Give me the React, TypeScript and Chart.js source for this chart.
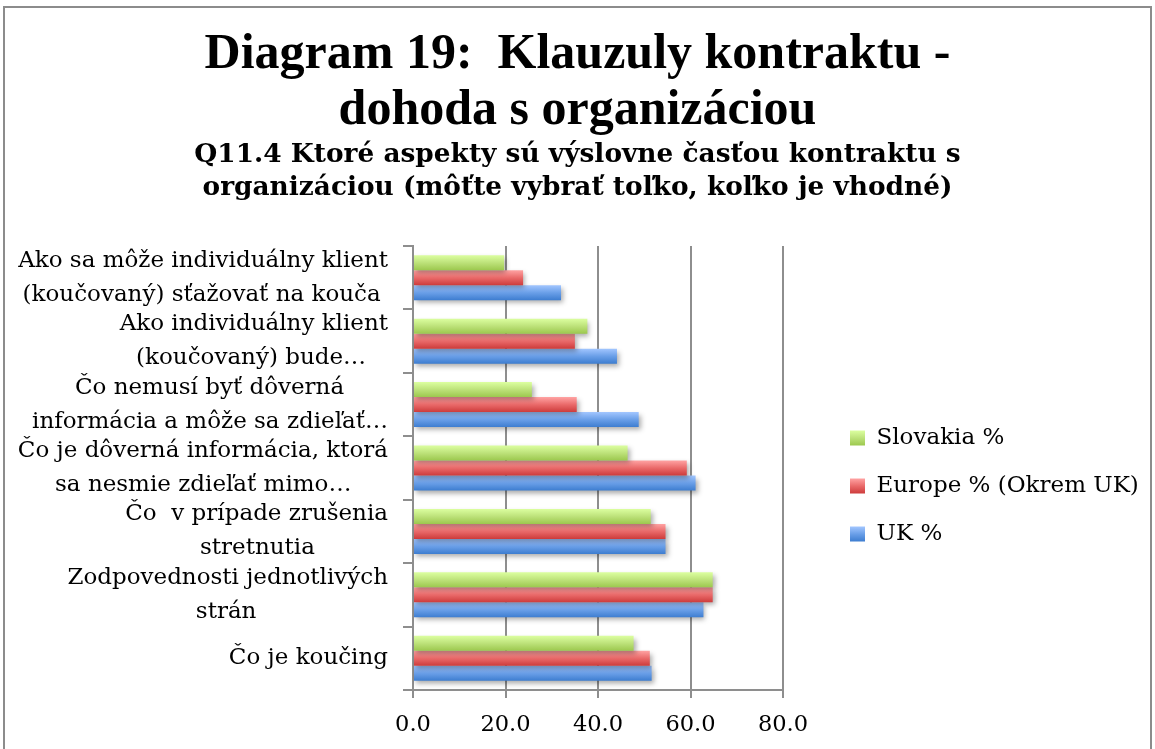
import React, { useEffect, useRef } from "react";
import { Chart, registerables } from "chart.js";

Chart.register(...registerables);

// ---------- data ----------
const categories: string[][] = [
  ["Ako sa môže individuálny klient", "(koučovaný) sťažovať na kouča"],
  ["Ako individuálny klient", "(koučovaný) bude…"],
  ["Čo nemusí byť dôverná", "informácia a môže sa zdieľať…"],
  ["Čo je dôverná informácia, ktorá", "sa nesmie zdieľať mimo…"],
  ["Čo  v prípade zrušenia", "stretnutia"],
  ["Zodpovednosti jednotlivých", "strán"],
  ["Čo je koučing"],
];
const slovakia = [19.7, 37.7, 25.7, 46.4, 51.4, 64.8, 47.7];
const europe = [23.8, 35.0, 35.4, 59.2, 54.6, 64.8, 51.2];
const uk = [32.0, 44.1, 48.8, 61.1, 54.6, 62.8, 51.6];
const seriesNames = ["Slovakia %", "Europe % (Okrem UK)", "UK %"];
const titleLines = ["Diagram 19:  Klauzuly kontraktu -", "dohoda s organizáciou"];
const subtitleLines = [
  "Q11.4 Ktoré aspekty sú výslovne časťou kontraktu s",
  "organizáciou (môťte vybrať toľko, koľko je vhodné)",
];
const xMin = 0;
const xMax = 80;
const xStep = 20;

// ---------- styles ----------
const seriesMid = ["#bde27a", "#ea6a6a", "#6a9fe8"];
const seriesStops = [
  ["#dcffa0", "#bde27a", "#9cc84e"],
  ["#ffa3a3", "#ea6a6a", "#cd3b3b"],
  ["#a2c6ff", "#6a9fe8", "#3d7dd0"],
];
const gridColor = "#8e8e8e";
const labelFont = "DejaVu Serif";
const W = 1155;
const H = 749;

function padLabels(cats: string[][], size: number): string[][] {
  const c = document.createElement("canvas").getContext("2d")!;
  c.font = `${size}px "${labelFont}"`;
  const sp = c.measureText("\u00A0").width || size * 0.3;
  return cats.map((lines) => {
    const widths = lines.map((l) => c.measureText(l).width);
    const maxW = Math.max(...widths);
    return lines.map((l, i) => l + "\u00A0".repeat(Math.max(0, Math.round((maxW - widths[i]) / 2 / sp))));
  });
}

function makeGrad(ctx: CanvasRenderingContext2D, top: number, bottom: number, stops: string[]) {
  const g = ctx.createLinearGradient(0, top, 0, bottom);
  g.addColorStop(0, stops[0]);
  g.addColorStop(0.5, stops[1]);
  g.addColorStop(1, stops[2]);
  return g;
}

const barStyle = {
  id: "barStyle",
  afterLayout(chart: any) {
    // let the legend use the whole right margin (avoid clipping long labels)
    const lg = chart.legend;
    if (lg) {
      lg.right = W;
      lg.width = W - lg.left;
    }
  },
  beforeDraw(chart: any) {
    const lg = chart.legend;
    if (!lg || !lg.legendItems || !lg.legendHitBoxes) return;
    const ctx = chart.ctx as CanvasRenderingContext2D;
    lg.legendItems.forEach((item: any, i: number) => {
      const hb = lg.legendHitBoxes[i];
      if (!hb) return;
      const top = hb.top + (hb.height - 15) / 2;
      item.fillStyle = makeGrad(ctx, top, top + 15, seriesStops[item.datasetIndex]);
    });
  },
  beforeDatasetsDraw(chart: any) {
    const ctx = chart.ctx as CanvasRenderingContext2D;
    chart.data.datasets.forEach((_ds: any, i: number) => {
      const meta = chart.getDatasetMeta(i);
      const stops = seriesStops[i];
      meta.data.forEach((el: any) => {
        const y = el.y;
        const h = el.height;
        el.options = { ...el.options, backgroundColor: makeGrad(ctx, y - h / 2, y + h / 2, stops) };
      });
    });
    ctx.save();
    ctx.shadowColor = "rgba(0,0,0,0.33)";
    ctx.shadowBlur = 5;
    ctx.shadowOffsetX = 2;
    ctx.shadowOffsetY = 3;
  },
  afterDatasetsDraw(chart: any) {
    chart.ctx.restore();
  },
};

export default function App() {
  const ref = useRef<HTMLCanvasElement>(null);

  useEffect(() => {
    const tickSize = 23;
    const padded = padLabels(categories, tickSize);
    const chart = new Chart(ref.current!, {
      type: "bar",
      data: {
        labels: categories as any,
        datasets: [
          { label: seriesNames[0], data: slovakia, backgroundColor: seriesMid[0], borderWidth: 0 },
          { label: seriesNames[1], data: europe, backgroundColor: seriesMid[1], borderWidth: 0 },
          { label: seriesNames[2], data: uk, backgroundColor: seriesMid[2], borderWidth: 0 },
        ],
      },
      options: {
        indexAxis: "y",
        responsive: false,
        animation: false,
        devicePixelRatio: 1,
        layout: { padding: { left: 0, right: 0, top: 0, bottom: 0 } },
        datasets: { bar: { categoryPercentage: 0.71, barPercentage: 1 } },
        plugins: {
          title: {
            display: true,
            text: titleLines,
            color: "#000",
            font: { family: "Liberation Serif", size: 50, weight: "bold", lineHeight: 1.12 },
            padding: { top: 27, bottom: 0 },
          },
          subtitle: {
            display: true,
            text: subtitleLines,
            color: "#000",
            font: { family: labelFont, size: 26.4, weight: "bold", lineHeight: 1.25 },
            padding: { top: 0, bottom: 41 },
          },
          legend: {
            position: "right",
            fullSize: false,
            labels: {
              color: "#000",
              font: { family: labelFont, size: 23 },
              boxWidth: 15,
              boxHeight: 15,
              padding: 25,
            },
            title: { display: true, text: " ", font: { size: 10 }, padding: { top: 24, bottom: 0 } },
          },
          tooltip: { enabled: false },
        },
        scales: {
          x: {
            min: xMin,
            max: xMax,
            ticks: {
              stepSize: xStep,
              color: "#000",
              font: { family: labelFont, size: 22.5 },
              padding: 14,
              callback: (v: any) => Number(v).toFixed(1),
            },
            grid: { color: gridColor, lineWidth: 2, tickLength: 8 },
            border: { color: gridColor, width: 2 },
            afterFit: (s: any) => {
              s.height = 59;
            },
          },
          y: {
            ticks: {
              color: "#000",
              font: { family: labelFont, size: tickSize, lineHeight: 34 / tickSize },
              padding: 15,
              autoSkip: false,
              callback: (_v: any, i: number) => padded[i],
            },
            grid: { drawOnChartArea: false, tickLength: 10, color: gridColor, lineWidth: 2, offset: true },
            border: { color: gridColor, width: 2 },
            afterFit: (s: any) => {
              s.width = 413;
            },
          },
          padInner: {
            type: "linear",
            position: "right",
            display: false,
            afterFit: (s: any) => {
              s.width = 42;
            },
          },
          padOuter: {
            type: "linear",
            position: "right",
            weight: 2000,
            display: false,
            afterFit: (s: any) => {
              s.width = W - 825 - W / 4;
            },
          },
        },
      } as any,
      plugins: [barStyle],
    });
    return () => chart.destroy();
  }, []);

  return (
    <div
      style={{
        position: "fixed",
        left: 0,
        top: 0,
        width: W,
        height: H,
        background: "#fff",
        overflow: "hidden",
      }}
    >
      <div
        style={{
          position: "absolute",
          left: 3,
          top: 6,
          width: 1149,
          height: 800,
          border: "2px solid #8c8c8c",
          boxSizing: "border-box",
        }}
      />
      <canvas
        ref={ref}
        width={W}
        height={H}
        style={{ position: "absolute", left: 0, top: 0, width: W, height: H }}
      />
    </div>
  );
}
